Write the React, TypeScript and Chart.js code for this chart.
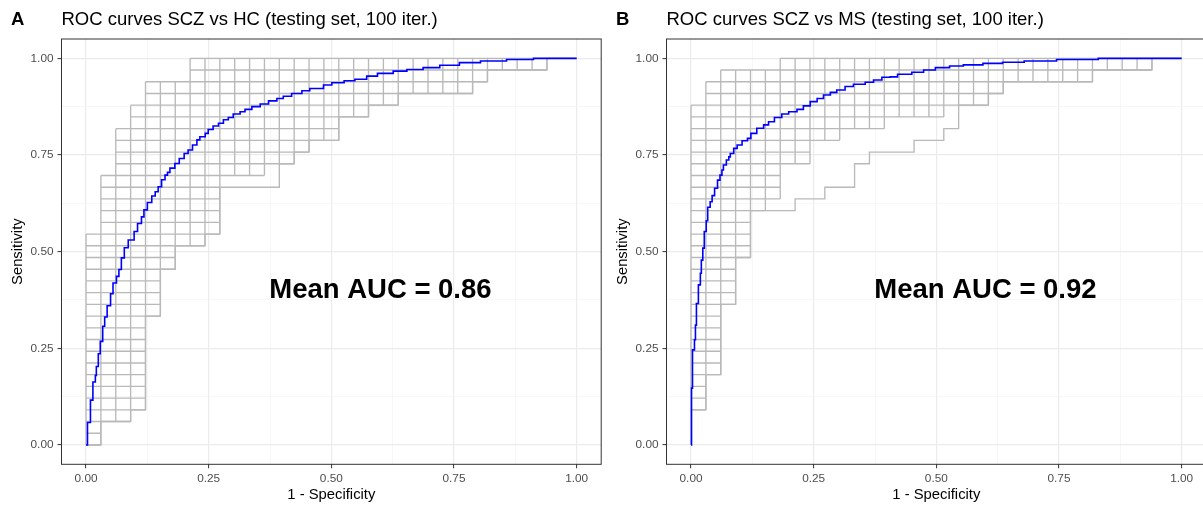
import React, { useEffect, useRef } from "react";
import { Chart, registerables } from "chart.js";

Chart.register(...registerables);

const FONT = "'Liberation Sans', Arial, Helvetica, sans-serif";

// ---------- shared axis data ----------
const GRID_STEPS = 33; // lattice of the per-iteration step curves (1/33 per step)
const majorTicks = [0, 0.25, 0.5, 0.75, 1];
const majorTickLabels = ["0.00", "0.25", "0.50", "0.75", "1.00"];
const minorTicks = [0.125, 0.375, 0.625, 0.875];
const xAxisTitle = "1 - Specificity";
const yAxisTitle = "Sensitivity";

// ---------- Panel A : SCZ vs HC ----------
const panelALetter = "A";
const panelATitle = "ROC curves SCZ vs HC (testing set, 100 iter.)";
const panelAAuc = "Mean AUC = 0.86";
const panelAMeanFpr = [
  0, 0.003, 0.009, 0.014, 0.019, 0.021, 0.025, 0.029, 0.034, 0.038, 0.043, 0.05, 0.055, 0.062, 0.067,
  0.072, 0.078, 0.086, 0.098, 0.105, 0.113, 0.118, 0.125, 0.134, 0.141, 0.147, 0.154, 0.161, 0.166,
  0.171, 0.181, 0.19, 0.2, 0.208, 0.217, 0.226, 0.232, 0.243, 0.249, 0.259, 0.27, 0.28, 0.29, 0.3,
  0.314, 0.324, 0.338, 0.355, 0.372, 0.389, 0.402, 0.419, 0.44, 0.456, 0.484, 0.501, 0.526, 0.548,
  0.572, 0.594, 0.626, 0.654, 0.687, 0.721, 0.761, 0.804, 0.857, 0.912, 1.0,
];
const panelAMeanTpr = [
  0, 0.058, 0.116, 0.163, 0.18, 0.203, 0.236, 0.268, 0.307, 0.331, 0.36, 0.391, 0.419, 0.436, 0.454,
  0.484, 0.51, 0.53, 0.552, 0.573, 0.59, 0.608, 0.627, 0.644, 0.655, 0.668, 0.686, 0.698, 0.705,
  0.716, 0.728, 0.741, 0.754, 0.763, 0.776, 0.789, 0.797, 0.806, 0.816, 0.825, 0.832, 0.841, 0.847, 0.856,
  0.862, 0.868, 0.875, 0.882, 0.89, 0.896, 0.902, 0.909, 0.916, 0.922, 0.931, 0.937, 0.942, 0.946,
  0.954, 0.961, 0.967, 0.971, 0.976, 0.982, 0.989, 0.993, 0.997, 1.0, 1.0,
];
// FP count at which the curve rises from TP level k to k+1 (k = 0..32)
const panelABandUpper = [
  0, 0, 0, 0, 0, 0, 0, 0, 0, 0, 0, 0, 0, 0, 0, 0, 0, 0,
  1, 1, 1, 1, 1, 2, 2, 2, 2, 3, 3, 4, 4, 7, 7,
];
const panelABandLower = [
  1, 1, 3, 4, 4, 4, 4, 4, 4, 4, 4, 5, 5, 5, 5, 6, 6, 8,
  9, 9, 9, 9, 9, 12, 14, 15, 17, 17, 19, 21, 26, 27, 31,
];
const panelAOutlier = [
  1, 1, 3, 4, 4, 4, 4, 4, 4, 4, 4, 5, 5, 5, 5, 6, 6, 8,
  9, 9, 9, 9, 13, 13, 14, 15, 17, 17, 19, 21, 26, 27, 31,
];

// ---------- Panel B : SCZ vs MS ----------
const panelBLetter = "B";
const panelBTitle = "ROC curves SCZ vs MS (testing set, 100 iter.)";
const panelBAuc = "Mean AUC = 0.92";
const panelBMeanFpr = [
  0, 0.001, 0.003, 0.007, 0.009, 0.011, 0.015, 0.019, 0.021, 0.024, 0.027, 0.031, 0.034, 0.039, 0.043,
  0.048, 0.054, 0.059, 0.063, 0.066, 0.072, 0.077, 0.08, 0.087, 0.094, 0.104, 0.115, 0.122, 0.134,
  0.148, 0.158, 0.17, 0.185, 0.199, 0.216, 0.229, 0.243, 0.257, 0.27, 0.284, 0.297, 0.314, 0.331,
  0.355, 0.372, 0.389, 0.406, 0.421, 0.45, 0.474, 0.498, 0.527, 0.555, 0.595, 0.635, 0.679, 0.745,
  0.83, 1.0,
];
const panelBMeanTpr = [
  0, 0.147, 0.246, 0.272, 0.31, 0.366, 0.414, 0.444, 0.478, 0.509, 0.552, 0.58, 0.615, 0.629, 0.645,
  0.664, 0.685, 0.698, 0.711, 0.724, 0.737, 0.745, 0.754, 0.767, 0.776, 0.787, 0.793, 0.806, 0.819,
  0.828, 0.836, 0.847, 0.856, 0.862, 0.868, 0.877, 0.888, 0.896, 0.905, 0.912, 0.918, 0.927, 0.933,
  0.938, 0.944, 0.951, 0.952, 0.959, 0.964, 0.97, 0.976, 0.98, 0.983, 0.987, 0.99, 0.993, 0.997,
  1.0, 1.0,
];
const panelBBandUpper = [
  0, 0, 0, 0, 0, 0, 0, 0, 0, 0, 0, 0, 0, 0, 0, 0, 0, 0, 0, 0, 0, 0, 0, 0, 0, 0, 0, 0, 0,
  1, 1, 2, 6,
];
const panelBBandLower = [
  0, 0, 0, 1, 1, 1, 2, 2, 2, 2, 2, 2, 3, 3, 3, 3, 4, 4, 4, 4,
  5, 6, 6, 6, 8, 8, 10, 13, 17, 20, 21, 27, 31,
];
const panelBOutlier = [
  0, 0, 0, 1, 1, 1, 2, 2, 2, 2, 2, 2, 3, 3, 3, 3, 4, 4, 4, 4,
  7, 9, 11, 11, 12, 15, 17, 18, 18, 20, 21, 27, 31,
];

// annotation anchor (data units)
const AUC_LABEL_X = 0.6;
const AUC_LABEL_Y = 0.4;

type Pt = { x: number; y: number | null };

// union of the iteration curves inside the band, on the 1/n lattice
function bandLattice(upper: number[], lower: number[], n: number): Pt[] {
  const pts: Pt[] = [];
  for (let k = 0; k <= n; k++) {
    const a = k === 0 ? 0 : upper[k - 1];
    const b = k === n ? n : lower[k];
    pts.push({ x: a / n, y: k / n }, { x: b / n, y: k / n }, { x: b / n, y: null });
  }
  for (let j = 0; j <= n; j++) {
    let start = -1;
    for (let k = 0; k <= n; k++) {
      const inside = k < n && upper[k] <= j && j <= lower[k];
      if (inside && start < 0) start = k;
      if (!inside && start >= 0) {
        pts.push({ x: j / n, y: start / n }, { x: j / n, y: k / n }, { x: j / n, y: null });
        start = -1;
      }
    }
  }
  return pts;
}

function stepCurve(rises: number[], n: number): Pt[] {
  const pts: Pt[] = [{ x: 0, y: 0 }];
  rises.forEach((r, k) => {
    pts.push({ x: r / n, y: k / n }, { x: r / n, y: (k + 1) / n });
  });
  pts.push({ x: 1, y: 1 });
  return pts;
}

const allTicks = [...majorTicks, ...minorTicks].sort((a, b) => a - b);
const isMajor = (v: number) => majorTicks.some((m) => Math.abs(m - v) < 1e-9);
const labelFor = (v: number) => {
  const i = majorTicks.findIndex((m) => Math.abs(m - v) < 1e-9);
  return i >= 0 ? majorTickLabels[i] : "";
};

const decorPlugin = {
  id: "decor",
  afterDatasetsDraw(chart: any, _args: any, opts: any) {
    const { ctx, chartArea: a, scales } = chart;
    ctx.save();
    ctx.strokeStyle = "#333333";
    ctx.lineWidth = 1;
    ctx.strokeRect(a.left, a.top, a.right - a.left, a.bottom - a.top);
    ctx.fillStyle = "#000000";
    ctx.font = `bold 27.5px ${FONT}`;
    ctx.textAlign = "center";
    ctx.textBaseline = "middle";
    ctx.fillText(opts.auc, scales.x.getPixelForValue(AUC_LABEL_X), scales.y.getPixelForValue(AUC_LABEL_Y));
    ctx.font = `bold 18.5px ${FONT}`;
    ctx.textAlign = "left";
    ctx.fillText(opts.letter, 11, 20);
    ctx.restore();
  },
};

type PanelProps = {
  letter: string;
  title: string;
  auc: string;
  fpr: number[];
  tpr: number[];
  upper: number[];
  lower: number[];
  outlier: number[];
  left: number;
};

function Panel(p: PanelProps) {
  const ref = useRef<HTMLCanvasElement | null>(null);
  useEffect(() => {
    if (!ref.current) return;
    const scaleCommon = (isX: boolean) => ({
      type: "linear" as const,
      min: -0.05,
      max: 1.05,
      afterBuildTicks: (scale: any) => {
        scale.ticks = allTicks.map((v) => ({ value: v }));
      },
      afterFit: (scale: any) => {
        if (isX) scale.height = 42.7;
        else scale.width = 61.5;
      },
      border: { display: false },
      grid: {
        color: (c: any) => (c.tick && isMajor(c.tick.value) ? "#ebebeb" : "#f4f4f4"),
        lineWidth: (c: any) => (c.tick && isMajor(c.tick.value) ? 1.2 : 0.7),
        tickColor: (c: any) => (c.tick && isMajor(c.tick.value) ? "#333333" : "rgba(0,0,0,0)"),
        tickWidth: 1,
        tickLength: 4,
        drawTicks: true,
      },
      ticks: {
        autoSkip: false,
        maxRotation: 0,
        padding: isX ? 3 : 4,
        color: "#4d4d4d",
        font: { family: FONT, size: 11.8 },
        callback: (v: any) => labelFor(Number(v)),
      },
      title: {
        display: true,
        text: isX ? xAxisTitle : yAxisTitle,
        color: "#000000",
        font: { family: FONT, size: 14.8 },
        padding: isX ? { top: 0, bottom: 3.5 } : { top: 9.5, bottom: 0 },
      },
    });

    const chart = new Chart(ref.current, {
      type: "scatter",
      data: {
        datasets: [
          {
            label: "mean",
            data: p.fpr.map((x, i) => ({ x, y: p.tpr[i] })),
            showLine: true,
            stepped: "before",
            borderColor: "#0000ff",
            borderWidth: 1.6,
            pointRadius: 0,
          },
          {
            label: "outlier",
            data: stepCurve(p.outlier, GRID_STEPS),
            showLine: true,
            borderColor: "#b9b9b9",
            borderWidth: 1.35,
            pointRadius: 0,
          },
          {
            label: "iterations",
            data: bandLattice(p.upper, p.lower, GRID_STEPS),
            showLine: true,
            spanGaps: false,
            borderColor: "#b9b9b9",
            borderWidth: 1.35,
            pointRadius: 0,
          },
        ],
      } as any,
      options: {
        responsive: false,
        animation: false,
        devicePixelRatio: 1,
        events: [],
        layout: { padding: { left: 0, right: 3.8, top: 0, bottom: 0 } },
        plugins: {
          legend: { display: false },
          tooltip: { enabled: false },
          title: {
            display: true,
            text: p.title,
            align: "start",
            fullSize: false,
            color: "#000000",
            font: { family: FONT, size: 18.5, weight: "normal" },
            padding: { top: 8.5, bottom: 8.3 },
          },
          decor: { auc: p.auc, letter: p.letter },
        } as any,
        scales: {
          x: scaleCommon(true),
          y: scaleCommon(false),
        } as any,
      },
      plugins: [decorPlugin],
    });
    return () => chart.destroy();
  }, []);
  return (
    <canvas
      ref={ref}
      width={605}
      height={507}
      style={{ position: "absolute", left: p.left, top: 0, width: 605, height: 507 }}
    />
  );
}

export default function App() {
  return (
    <div
      style={{
        position: "absolute",
        left: 0,
        top: 0,
        width: 1203,
        height: 507,
        overflow: "hidden",
        background: "#ffffff",
      }}
    >
      <Panel
        letter={panelALetter}
        title={panelATitle}
        auc={panelAAuc}
        fpr={panelAMeanFpr}
        tpr={panelAMeanTpr}
        upper={panelABandUpper}
        lower={panelABandLower}
        outlier={panelAOutlier}
        left={0}
      />
      <Panel
        letter={panelBLetter}
        title={panelBTitle}
        auc={panelBAuc}
        fpr={panelBMeanFpr}
        tpr={panelBMeanTpr}
        upper={panelBBandUpper}
        lower={panelBBandLower}
        outlier={panelBOutlier}
        left={605}
      />
    </div>
  );
}
